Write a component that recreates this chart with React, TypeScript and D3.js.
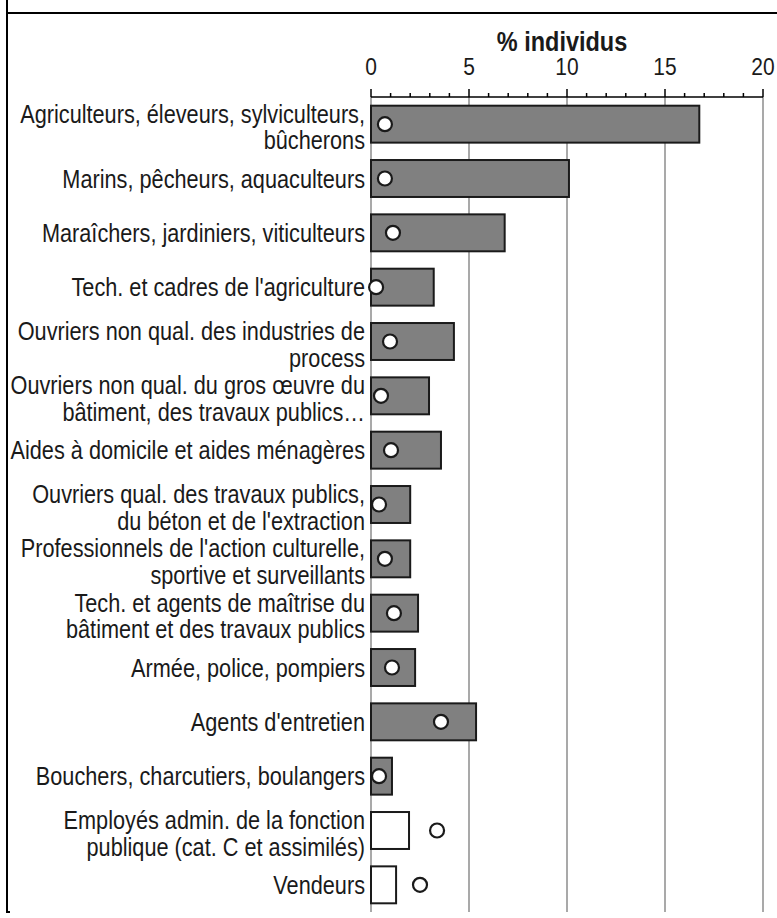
import React from "react";
import * as d3 from "d3";

const categories: string[][] = [
  ["Agriculteurs, éleveurs, sylviculteurs,", "bûcherons"],
  ["Marins, pêcheurs, aquaculteurs"],
  ["Maraîchers, jardiniers, viticulteurs"],
  ["Tech. et cadres de l'agriculture"],
  ["Ouvriers non qual. des industries de", "process"],
  ["Ouvriers non qual. du gros œuvre du", "bâtiment, des travaux publics…"],
  ["Aides à domicile et aides ménagères"],
  ["Ouvriers qual. des travaux publics,", "du béton et de l'extraction"],
  ["Professionnels de l'action culturelle,", "sportive et surveillants"],
  ["Tech. et agents de maîtrise du", "bâtiment et des travaux publics"],
  ["Armée, police, pompiers"],
  ["Agents d'entretien"],
  ["Bouchers, charcutiers, boulangers"],
  ["Employés admin. de la fonction", "publique (cat. C et assimilés)"],
  ["Vendeurs"],
];
const barValues = [16.75, 10.1, 6.82, 3.2, 4.23, 2.96, 3.57, 2.0, 2.0, 2.4, 2.25, 5.36, 1.07, 1.94, 1.28];
const pointValues = [0.71, 0.71, 1.12, 0.26, 0.97, 0.51, 1.02, 0.41, 0.71, 1.17, 1.07, 3.57, 0.41, 3.37, 2.5];
const highlighted = [true, true, true, true, true, true, true, true, true, true, true, true, true, false, false];
const majorTicks = [0, 5, 10, 15, 20];
const minorTicks = d3.range(0, 21, 1);
const axisTitle = "% individus";

const SY = 1.15;

function T(props: { x: number; y: number; anchor: string; size: number; bold?: boolean; children: React.ReactNode }) {
  return (
    <text
      transform={`translate(${props.x},${props.y}) scale(1,${SY})`}
      textAnchor={props.anchor}
      fontSize={props.size}
      fontWeight={props.bold ? "bold" : "normal"}
      fill="#1a1a1a"
    >
      {props.children}
    </text>
  );
}

export default function App() {
  const W = 777, H = 918;
  const x = d3.scaleLinear().domain([0, 20]).range([371, 763]);
  const idx = categories.map((_, i) => String(i));
  const y = d3.scaleBand().domain(idx).range([97, 912]).paddingInner(0.32).paddingOuter(0.16);
  const axisY = 97;
  const font = "'Liberation Sans', Arial, sans-serif";
  const fs = 21.7;
  return (
    <svg width={W} height={H} style={{ position: "absolute", left: 0, top: 0, background: "#fff" }} fontFamily={font}>
      {/* frame */}
      <line x1={7} x2={7} y1={0} y2={913} stroke="#000" strokeWidth={2} />
      <line x1={6} x2={W} y1={13} y2={13} stroke="#000" strokeWidth={2} />
      <line x1={6} x2={10} y1={912} y2={912} stroke="#000" strokeWidth={2} />
      {/* gridlines */}
      {majorTicks.map((t) => (
        <line key={"g" + t} x1={x(t)} x2={x(t)} y1={axisY} y2={912} stroke="#8c8c8c" strokeWidth={1.5} />
      ))}
      {/* axis */}
      <line x1={x(0)} x2={x(20)} y1={axisY} y2={axisY} stroke="#000" strokeWidth={1.5} />
      {minorTicks.map((t) => (
        <line key={"m" + t} x1={x(t)} x2={x(t)} y1={majorTicks.includes(t) ? axisY - 8 : axisY - 4} y2={axisY} stroke="#000" strokeWidth={1.5} />
      ))}
      {majorTicks.map((t) => (
        <T key={"l" + t} x={x(t)} y={75} anchor="middle" size={21}>{t}</T>
      ))}
      <T x={x(10) - 5} y={50.5} anchor="middle" size={23.5} bold>{axisTitle}</T>
      {/* bars */}
      {categories.map((c, i) => {
        const yy = y(String(i))!;
        const bw = y.bandwidth();
        const cy = yy + bw / 2;
        const n = c.length;
        const base = n === 1 ? [cy + 9] : [cy - 1.5, cy + 25];
        return (
          <g key={"b" + i}>
            <rect x={x(0)} y={yy} width={x(barValues[i]) - x(0)} height={bw}
              fill={highlighted[i] ? "#808080" : "#fff"} stroke="#1a1a1a" strokeWidth={2} />
            <circle cx={x(pointValues[i])} cy={cy} r={7} fill="#fff" stroke="#1a1a1a" strokeWidth={2.2} />
            {c.map((line, k) => (
              <T key={k} x={365} y={base[k]} anchor="end" size={fs}>{line}</T>
            ))}
          </g>
        );
      })}
    </svg>
  );
}
